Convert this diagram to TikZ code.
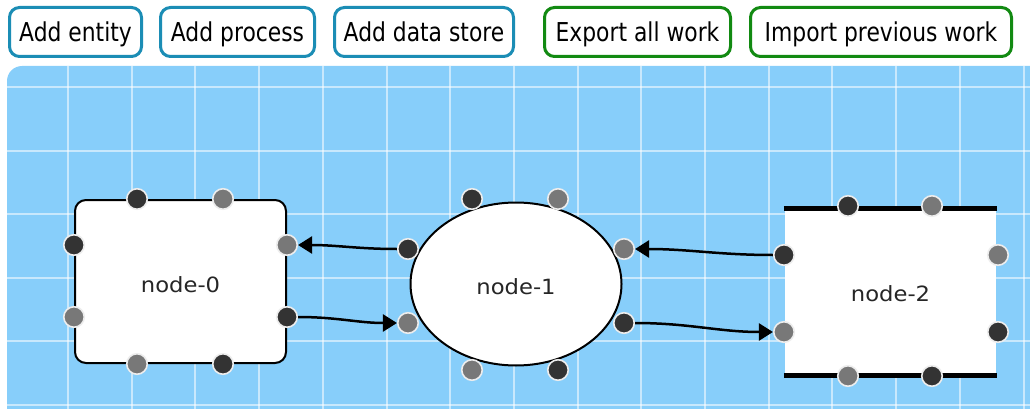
\documentclass[tikz,border=0pt]{standalone}
\usepackage{fontspec}
\setmainfont{DejaVu Sans}
\newfontfamily\buttonfont{DejaVu Sans}[FakeStretch=0.84]
\newfontfamily\shapefont{DejaVu Sans}[FakeStretch=1.08]
\usetikzlibrary{arrows.meta,shapes.geometric}

\definecolor{canvasblue}{HTML}{87CEFA}
\definecolor{btnblue}{HTML}{1B8DB5}
\definecolor{btngreen}{HTML}{128A12}
\definecolor{portdark}{HTML}{333333}
\definecolor{portgray}{HTML}{787878}
\definecolor{portrim}{HTML}{EDEDED}
\definecolor{labelgray}{HTML}{262626}

\begin{document}
\begin{tikzpicture}[x=1pt,y=-1pt,
  button/.style={draw, line width=3pt, rounded corners=10pt, fill=white,
    inner sep=0pt, minimum height=49pt, text=black,
    text height=19pt, text depth=0pt,
    font=\buttonfont\fontsize{26}{28}\selectfont},
  btnadd/.style={button, draw=btnblue},
  btnfile/.style={button, draw=btngreen},
  gridline/.style={draw=white, draw opacity=0.55, line width=2pt},
  shapelabel/.style={text=labelgray, text height=15.3pt, text depth=0pt,
    font=\shapefont\fontsize{21}{24}\selectfont},
  entity/.style={shapelabel, draw=black, line width=2pt, fill=white,
    rounded corners=11pt, minimum width=211pt, minimum height=163pt, inner sep=0pt},
  process/.style={shapelabel, ellipse, draw=black, line width=2pt, fill=white,
    minimum width=211pt, minimum height=163pt, inner sep=0pt},
  datastore/.style={shapelabel, fill=white, minimum width=211pt,
    minimum height=166pt, inner sep=0pt},
  storeedge/.style={draw=black, line width=5pt},
  port/.style={circle, draw=portrim, line width=1.6pt, minimum size=20.5pt, inner sep=0pt},
  portd/.style={port, fill=portdark},
  portg/.style={port, fill=portgray},
  flow/.style={draw=black, line width=2.5pt,
    -{Triangle[length=14pt,width=17pt]}}
]
\useasboundingbox (0,0) rectangle (1030,409);

% toolbar
\node[btnadd, minimum width=132pt]  (addentity)  at (75.5,32)  {Add entity};
\node[btnadd, minimum width=154pt]  (addprocess) at (237.5,32) {Add process};
\node[btnadd, minimum width=179pt]  (addstore)   at (424,32)   {Add data store};
\node[btnfile, minimum width=186pt] (exportall)  at (637.5,32) {Export all work};
\node[btnfile, minimum width=261pt] (importprev) at (881,32)   {Import previous work};

% canvas with its grid
\begin{scope}
  \clip (0,0) rectangle (1030,409);
  \fill[canvasblue, rounded corners=15pt] (7,66) rectangle (1060,440);
  \clip[rounded corners=15pt] (7,66) rectangle (1060,440);
  \foreach \i in {0,...,15}
    \draw[gridline] ({68+63.7*\i},60) -- ({68+63.7*\i},420);
  \foreach \j in {0,...,5}
    \draw[gridline] (0,{87+63.5*\j}) -- (1040,{87+63.5*\j});
\end{scope}

% shapes
\node[entity]  (node0) at (180.5,281.5) {\raisebox{-3pt}{node-0}};
\node[process] (node1) at (516,284)     {\raisebox{-2.5pt}{node-1}};
\node[datastore] (node2) at (890.5,292) {\raisebox{-1.5pt}{node-2}};
\draw[storeedge] ([xshift=-1pt]node2.north west) -- ([xshift=1pt]node2.north east);
\draw[storeedge] ([xshift=-1pt]node2.south west) -- ([xshift=1pt]node2.south east);

% ports of node-0
\node[portd] (n0t1) at (137,199) {};
\node[portg] (n0t2) at (223,199) {};
\node[portd] (n0l1) at (74,245)  {};
\node[portg] (n0l2) at (74,317)  {};
\node[portg] (n0r1) at (287,245) {};
\node[portd] (n0r2) at (287,317) {};
\node[portg] (n0b1) at (137,364) {};
\node[portd] (n0b2) at (223,364) {};

% ports of node-1
\node[portd] (n1t1) at (472,199) {};
\node[portg] (n1t2) at (558,199) {};
\node[portd] (n1l1) at (408,249) {};
\node[portg] (n1l2) at (408,323) {};
\node[portg] (n1r1) at (624,249) {};
\node[portd] (n1r2) at (624,323) {};
\node[portg] (n1b1) at (472,370) {};
\node[portd] (n1b2) at (558,370) {};

% ports of node-2
\node[portd] (n2t1) at (848,206) {};
\node[portg] (n2t2) at (932,206) {};
\node[portd] (n2l1) at (784,255) {};
\node[portg] (n2l2) at (784,332) {};
\node[portg] (n2r1) at (998,255) {};
\node[portd] (n2r2) at (998,332) {};
\node[portg] (n2b1) at (848,376) {};
\node[portd] (n2b2) at (932,376) {};

% data flows
\draw[flow] (n1l1) to[out=180,in=0] (n0r1);
\draw[flow] (n0r2) to[out=0,in=180] (n1l2);
\draw[flow] (n2l1) to[out=180,in=0] (n1r1);
\draw[flow] (n1r2) to[out=0,in=180] (n2l2);
\end{tikzpicture}
\end{document}
